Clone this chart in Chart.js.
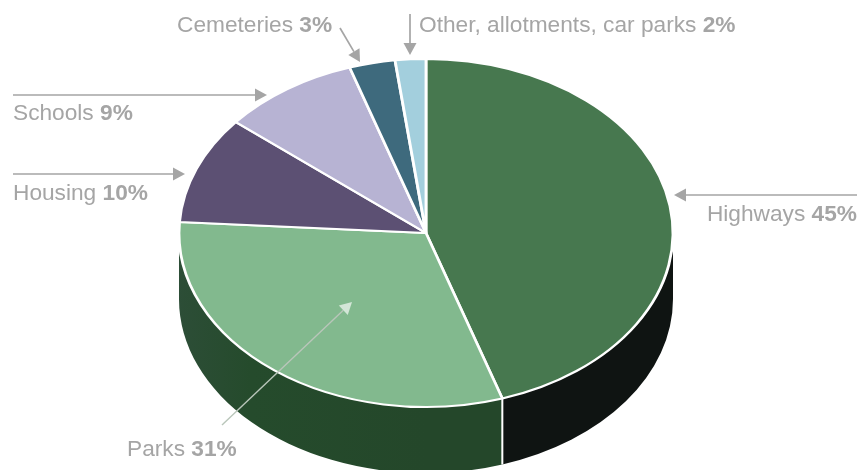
<!DOCTYPE html>
<html>
<head>
<meta charset="utf-8">
<script src="https://cdn.jsdelivr.net/npm/chart.js@4"></script>
<style>
  html, body { margin: 0; padding: 0; background: #fff; overflow: hidden; }
  canvas { display: block; }
</style>
</head>
<body>
<canvas id="pie" width="859" height="470"></canvas>
<script>
const categories = ['Highways', 'Parks', 'Housing', 'Schools', 'Cemeteries', 'Other, allotments, car parks'];
const shares = [45, 31, 10, 9, 3, 2];
const sliceColours = ['#47784f', '#82b98e', '#5c5073', '#b7b3d3', '#3e6a7d', '#a3cfdd'];

// label anchor and arrow (from, to) for each category, same order as above
const labelSpots = [
  { x: 857, y: 221, right: true },
  { x: 127, y: 456 },
  { x: 13, y: 200 },
  { x: 13, y: 120 },
  { x: 177, y: 32 },
  { x: 419, y: 32 }
];
const arrows = [
  [857, 195, 674, 195],
  [222, 425, 352, 302],
  [13, 174, 185, 174],
  [13, 95, 267, 95],
  [340, 28, 360, 62],
  [410, 14, 410, 55]
];

const RY = 174, RX = 247, DEPTH = 66;
const GREY = '#a5a5a5';
const FONT_SIZE = 22.7;

function squash(ctx, el) {
  ctx.translate(el.x, el.y);
  ctx.scale(RX / RY, 1);
  ctx.translate(-el.x, -el.y);
}

function wall(ctx, el, from, to, fill) {
  ctx.beginPath();
  ctx.arc(el.x, el.y, RY, from, to);
  ctx.arc(el.x, el.y + DEPTH, RY, to, from, true);
  ctx.closePath();
  ctx.fillStyle = fill;
  ctx.fill();
}

const flatPie = {
  id: 'flatPie',
  beforeDatasetsDraw(chart) {
    const ctx = chart.ctx;
    const arcs = chart.getDatasetMeta(0).data;
    const el = arcs[0];
    const seam = el.endAngle;

    // side of the disc, only the front half shows
    const dark = ctx.createLinearGradient(502, 0, el.x + RX, 0);
    dark.addColorStop(0, '#0f1412');
    dark.addColorStop(0.7, '#0f1412');
    dark.addColorStop(0.88, '#1c3023');
    dark.addColorStop(1, '#5a6f62');
    const green = ctx.createLinearGradient(el.x - RX, 0, el.x, 0);
    green.addColorStop(0, '#234a33');
    green.addColorStop(0.25, '#2e4e39');
    green.addColorStop(0.5, '#254b2c');
    green.addColorStop(1, '#24472a');

    ctx.save();
    squash(ctx, el);
    wall(ctx, el, 0, seam, dark);
    wall(ctx, el, seam, Math.PI, green);
    ctx.restore();

    // white seam down the side
    const seamX = el.x + Math.cos(seam) * RX;
    const seamY = el.y + Math.sin(seam) * RY;
    ctx.strokeStyle = '#fff';
    ctx.lineWidth = 2;
    ctx.beginPath();
    ctx.moveTo(seamX, seamY);
    ctx.lineTo(seamX, seamY + DEPTH);
    ctx.stroke();

    ctx.save();
    squash(ctx, el);
  },
  afterDatasetsDraw(chart) {
    const ctx = chart.ctx;
    ctx.restore();

    arrows.forEach((a, i) => {
      const onPie = i === 1;
      const ang = Math.atan2(a[3] - a[1], a[2] - a[0]);
      const len = 12;
      const half = 6.5;
      const bx = a[2] - Math.cos(ang) * len;
      const by = a[3] - Math.sin(ang) * len;
      ctx.strokeStyle = onPie ? '#b9c6ba' : GREY;
      ctx.lineWidth = onPie ? 1.4 : 1.7;
      ctx.beginPath();
      ctx.moveTo(a[0], a[1]);
      ctx.lineTo(bx, by);
      ctx.stroke();
      ctx.fillStyle = onPie ? '#d3e6d7' : GREY;
      ctx.beginPath();
      ctx.moveTo(a[2], a[3]);
      ctx.lineTo(bx - Math.sin(ang) * half, by + Math.cos(ang) * half);
      ctx.lineTo(bx + Math.sin(ang) * half, by - Math.cos(ang) * half);
      ctx.closePath();
      ctx.fill();
    });

    ctx.textBaseline = 'alphabetic';
    ctx.textAlign = 'left';
    ctx.fillStyle = GREY;
    categories.forEach((name, i) => {
      const spot = labelSpots[i];
      const plain = name + ' ';
      const pct = shares[i] + '%';
      const plainFont = FONT_SIZE + 'px "Liberation Sans"';
      const boldFont = 'bold ' + FONT_SIZE + 'px "Liberation Sans"';
      ctx.font = plainFont;
      const w1 = ctx.measureText(plain).width;
      ctx.font = boldFont;
      const w2 = ctx.measureText(pct).width;
      const x = spot.right ? spot.x - w1 - w2 : spot.x;
      ctx.font = plainFont;
      ctx.fillText(plain, x, spot.y);
      ctx.font = boldFont;
      ctx.fillText(pct, x + w1, spot.y);
    });
  }
};

new Chart(document.getElementById('pie'), {
  type: 'pie',
  data: {
    labels: categories,
    datasets: [{
      data: shares,
      backgroundColor: sliceColours,
      borderColor: '#fff',
      borderWidth: 2,
      radius: RY,
      clip: false
    }]
  },
  options: {
    responsive: false,
    animation: false,
    layout: { padding: { right: 7, bottom: 4 } },
    plugins: { legend: { display: false }, tooltip: { enabled: false } }
  },
  plugins: [flatPie]
});
</script>
</body>
</html>
